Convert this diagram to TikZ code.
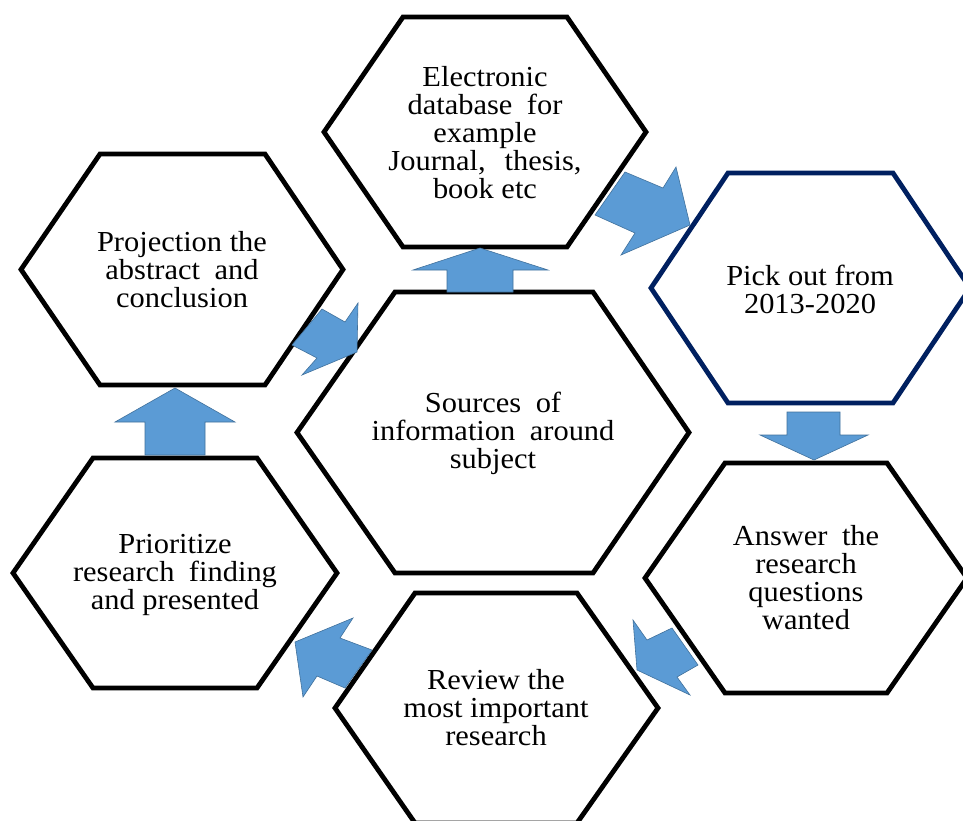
\documentclass[tikz,border=0pt]{standalone}
\usepackage{fontspec}
\setmainfont{Liberation Serif}[FakeStretch=1.05]
\definecolor{arrowblue}{HTML}{5B9BD5}
\definecolor{arrowedge}{HTML}{41719C}
\definecolor{hexnavy}{HTML}{002060}
\newcommand\wsp{\hspace{0.5em}}
\newcommand\wwsp{\hspace{0.65em}}
\begin{document}
\begin{tikzpicture}[x=1pt,y=-1pt,
  hexline/.style={line width=4.8pt, line join=miter, draw=black},
  hexnavyline/.style={line width=4.8pt, line join=miter, draw=hexnavy},
  hexlabel/.style={align=center, font=\fontsize{29}{28}\selectfont, inner sep=0pt, text=black},
  blockarrow/.style={fill=arrowblue, draw=arrowedge, line width=0.6pt, line join=miter}]
\useasboundingbox (0,0) rectangle (963,820);
\fill[white] (0,0) rectangle (963,820);

% hexagons
\draw[hexline] (324,132) -- (403,17) -- (567,17) -- (646,132) -- (567,247) -- (403,247) -- cycle;
\draw[hexnavyline] (651,288) -- (728,173) -- (893,173) -- (970,288) -- (893,403) -- (728,403) -- cycle;
\draw[hexline] (21,269.5) -- (100,154) -- (265,154) -- (343,269.5) -- (265,385) -- (100,385) -- cycle;
\draw[hexline] (297,432.5) -- (395,292) -- (593,292) -- (689,432.5) -- (593,573) -- (395,573) -- cycle;
\draw[hexline] (645,578) -- (725,463) -- (887,463) -- (967,578) -- (887,693) -- (725,693) -- cycle;
\draw[hexline] (335,708) -- (415,593) -- (577,593) -- (658,708) -- (577,823) -- (415,823) -- cycle;
\draw[hexline] (13,573) -- (93,458) -- (257,458) -- (337,573) -- (257,688) -- (93,688) -- cycle;

% labels
\node[hexlabel] (db) at (485,133) {Electronic\\database\wsp for\\example\\Journal,\wwsp thesis,\\book etc};
\node[hexlabel] (pick) at (810,289) {Pick out from\\2013-2020};
\node[hexlabel] (proj) at (182,270) {Projection the\\abstract\wsp and\\conclusion};
\node[hexlabel] (src) at (493,433) {Sources\wsp of\\information\wsp around\\subject};
\node[hexlabel] (ans) at (806,578) {Answer\wsp the\\research\\questions\\wanted};
\node[hexlabel] (rev) at (496,708) {Review the\\most important\\research};
\node[hexlabel] (prio) at (175,575) {Prioritize\\research\wsp finding\\and presented};

% block arrows
% sources -> electronic database (up)
\draw[blockarrow] (447,292) -- (447,270) -- (413,270) -- (480,248) -- (548,270) -- (513,270) -- (513,292) -- cycle;
% electronic database -> pick out
\draw[blockarrow] (625,172) -- (663,188) -- (676,167) -- (690,225) -- (621,255) -- (635,233) -- (595,215) -- cycle;
% pick out -> answer (down)
\draw[blockarrow] (787,412) -- (840,412) -- (840,435) -- (868,435) -- (814,460) -- (760,435) -- (787,435) -- cycle;
% answer -> review
\draw[blockarrow] (672,628) -- (647,640) -- (633,620) -- (637,670) -- (690,695) -- (677,677) -- (698,665) -- cycle;
% review -> prioritize
\draw[blockarrow] (372,650) -- (340,638) -- (353,618) -- (295,642) -- (303,697) -- (317,676) -- (345,688) -- cycle;
% prioritize -> projection (up)
\draw[blockarrow] (145,455) -- (145,422) -- (115,422) -- (175,388) -- (235,422) -- (205,422) -- (205,455) -- cycle;
% projection -> sources
\draw[blockarrow] (322,309) -- (345,322) -- (358,303) -- (357,352) -- (302,375) -- (317,358) -- (292,345) -- cycle;
\end{tikzpicture}
\end{document}
